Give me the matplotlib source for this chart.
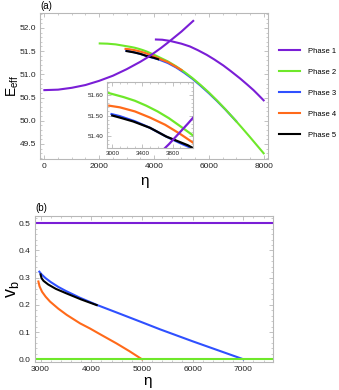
import numpy as np
import matplotlib
matplotlib.use('Agg')
import matplotlib.pyplot as plt
from matplotlib.ticker import MultipleLocator, FormatStrFormatter
from matplotlib.lines import Line2D

plt.rcParams['font.family'] = ['Liberation Sans', 'DejaVu Sans']
plt.rcParams['mathtext.fontset'] = 'custom'
plt.rcParams['mathtext.rm'] = 'Liberation Sans'
plt.rcParams['mathtext.it'] = 'Liberation Sans:italic'

# 색상 / 범례
phase_names = ['Phase 1', 'Phase 2', 'Phase 3', 'Phase 4', 'Phase 5']
phase_colors = ['#7a1ed6', '#6ee82a', '#2f50ff', '#ff6a1a', '#000000']

# (a) E_eff vs eta
eta_p1a = [0, 500, 1000, 1500, 2000, 2500, 3000, 3500, 3750, 4000, 4250, 4500, 5000, 5430]
E_p1a = [50.66, 50.67, 50.71, 50.77, 50.86, 50.97, 51.11, 51.27, 51.36, 51.46, 51.565, 51.68, 51.92, 52.15]
eta_p1b = [4070, 4300, 4580, 5000, 5311, 5600, 5922, 6200, 6531, 6800, 7143, 7400, 7630, 7800, 8000]
E_p1b = [51.75, 51.745, 51.72, 51.66, 51.60, 51.52, 51.42, 51.32, 51.19, 51.07, 50.91, 50.78, 50.66, 50.56, 50.44]

eta_p2 = [2020, 2300, 2600, 3000, 3150, 3300, 3450, 3600, 3750, 3900, 4050, 4200, 4500, 4800,
          5100, 5400, 5700, 6000, 6300, 6600, 6900, 7200, 7500, 7800, 8000]
E_p2 = [51.665, 51.66, 51.645, 51.605, 51.59, 51.572, 51.548, 51.52, 51.487, 51.448, 51.408,
        51.365, 51.28, 51.175, 51.055, 50.92, 50.77, 50.61, 50.435, 50.25, 50.055, 49.855,
        49.65, 49.44, 49.30]

eta_p3 = [2990, 3100, 3300, 3500, 3700, 3900, 4150, 4500, 4800, 5100, 5400, 5700, 6000, 6300, 6600, 7000]
E_p3 = [51.507, 51.497, 51.472, 51.44, 51.40, 51.365, 51.325, 51.245, 51.15, 51.035, 50.905,
        50.755, 50.595, 50.425, 50.245, 49.99]

eta_p4 = [2960, 3100, 3300, 3500, 3700, 3900, 4100, 4300, 4500, 4750, 5000]
E_p4 = [51.548, 51.54, 51.52, 51.49, 51.455, 51.41, 51.36, 51.31, 51.265, 51.18, 51.095]

eta_p5 = [3000, 3100, 3278, 3500, 3717, 4000, 4150]
E_p5 = [51.50, 51.49, 51.471, 51.44, 51.397, 51.355, 51.325]

# (b) v_b vs eta
eta_v1 = [2800, 7700]
v_p1 = [0.5, 0.5]
eta_v2 = [2800, 7700]
v_p2 = [0.0, 0.0]
eta_v3 = [2976, 3020, 3100, 3200, 3350, 3500, 3779, 4108, 4500, 5000, 5357, 6000, 6500, 7000]
v_p3 = [0.322, 0.312, 0.298, 0.284, 0.266, 0.251, 0.226, 0.200, 0.172, 0.136, 0.110, 0.066, 0.033, 0.0]
eta_v4 = [2957, 2980, 3030, 3100, 3187, 3350, 3517, 3779, 3976, 4174, 4500, 4750, 5000]
v_p4 = [0.286, 0.268, 0.248, 0.230, 0.212, 0.186, 0.163, 0.132, 0.113, 0.092, 0.058, 0.030, 0.0]
eta_v5 = [3000, 3020, 3060, 3150, 3300, 3500, 3800, 4108]
v_p5 = [0.312, 0.298, 0.288, 0.275, 0.259, 0.243, 0.220, 0.199]

frame_col = '#b8b8b8'
lw = 1.5


def style_frame(ax, fs):
    for s in ax.spines.values():
        s.set_color(frame_col)
        s.set_linewidth(0.8)
    ax.tick_params(which='both', direction='in', top=True, right=True,
                   color=frame_col, labelsize=fs, labelcolor='#222222', pad=3)
    ax.tick_params(which='major', length=3, width=0.6)
    ax.tick_params(which='minor', length=1.5, width=0.5)


fig = plt.figure(figsize=(3.39, 3.90), dpi=100)

# ---- (a) ----
ax1 = fig.add_axes([0.118, 0.5915, 0.6726, 0.3751])
ax1.plot(eta_p3, E_p3, color=phase_colors[2], lw=lw)
ax1.plot(eta_p2, E_p2, color=phase_colors[1], lw=lw)
ax1.plot(eta_p4, E_p4, color=phase_colors[3], lw=lw)
ax1.plot(eta_p5, E_p5, color=phase_colors[4], lw=lw)
ax1.plot(eta_p1a, E_p1a, color=phase_colors[0], lw=lw)
ax1.plot(eta_p1b, E_p1b, color=phase_colors[0], lw=lw)
ax1.set_xlim(-160, 8160)
ax1.set_ylim(49.17, 52.32)
ax1.xaxis.set_major_locator(MultipleLocator(2000))
ax1.xaxis.set_minor_locator(MultipleLocator(500))
ax1.yaxis.set_major_locator(MultipleLocator(0.5))
ax1.yaxis.set_minor_locator(MultipleLocator(0.1))
ax1.yaxis.set_major_formatter(FormatStrFormatter('%.1f'))
style_frame(ax1, 6)
ax1.set_xlabel('η', fontsize=11)
ax1.xaxis.set_label_coords(0.46, -0.10)
ax1.set_ylabel(r'$\mathregular{E_{eff}}$', fontsize=10)
ax1.yaxis.set_label_coords(-0.085, 0.5)
ax1.text(0.0, 1.015, '(a)', transform=ax1.transAxes, fontsize=7, va='bottom')

# inset
axi = fig.add_axes([0.3147, 0.6197, 0.2537, 0.1692])
axi.plot(eta_p3, E_p3, color=phase_colors[2], lw=1.6)
axi.plot(eta_p2, E_p2, color=phase_colors[1], lw=1.6)
axi.plot(eta_p4, E_p4, color=phase_colors[3], lw=1.6)
axi.plot(eta_p5, E_p5, color=phase_colors[4], lw=1.6)
axi.plot(eta_p1a, E_p1a, color=phase_colors[0], lw=1.6)
axi.set_xlim(2926, 4065)
axi.set_ylim(51.34, 51.662)
axi.set_xticks([3000, 3400, 3800])
axi.xaxis.set_minor_locator(MultipleLocator(100))
axi.yaxis.set_major_locator(MultipleLocator(0.1))
axi.yaxis.set_minor_locator(MultipleLocator(0.02))
axi.yaxis.set_major_formatter(FormatStrFormatter('%.2f'))
style_frame(axi, 4.5)
axi.tick_params(pad=2)

# legend
handles = [Line2D([], [], color=c, lw=lw) for c in phase_colors]
fig.legend(handles, phase_names, loc='upper left', bbox_to_anchor=(0.823, 0.878),
           frameon=False, fontsize=5.5, handlelength=2.75, handletextpad=1.0,
           labelspacing=1.78, borderpad=0, borderaxespad=0)

# ---- (b) ----
ax2 = fig.add_axes([0.1032, 0.0726, 0.7012, 0.3744])
ax2.plot(eta_v1, v_p1, color=phase_colors[0], lw=lw)
ax2.plot(eta_v3, v_p3, color=phase_colors[2], lw=lw)
ax2.plot(eta_v4, v_p4, color=phase_colors[3], lw=lw)
ax2.plot(eta_v5, v_p5, color=phase_colors[4], lw=lw)
ax2.plot(eta_v2, v_p2, color=phase_colors[1], lw=lw)
ax2.set_xlim(2890, 7580)
ax2.set_ylim(-0.009, 0.528)
ax2.xaxis.set_major_locator(MultipleLocator(1000))
ax2.xaxis.set_minor_locator(MultipleLocator(200))
ax2.yaxis.set_major_locator(MultipleLocator(0.1))
ax2.yaxis.set_minor_locator(MultipleLocator(0.02))
ax2.yaxis.set_major_formatter(FormatStrFormatter('%.1f'))
style_frame(ax2, 6)
ax2.set_xlabel('η', fontsize=11)
ax2.xaxis.set_label_coords(0.475, -0.085)
ax2.set_ylabel(r'$\mathregular{v_b}$', fontsize=13)
ax2.yaxis.set_label_coords(-0.06, 0.5)
ax2.text(0.0, 1.015, '(b)', transform=ax2.transAxes, fontsize=7, va='bottom')

plt.savefig('out.png', dpi=100)
